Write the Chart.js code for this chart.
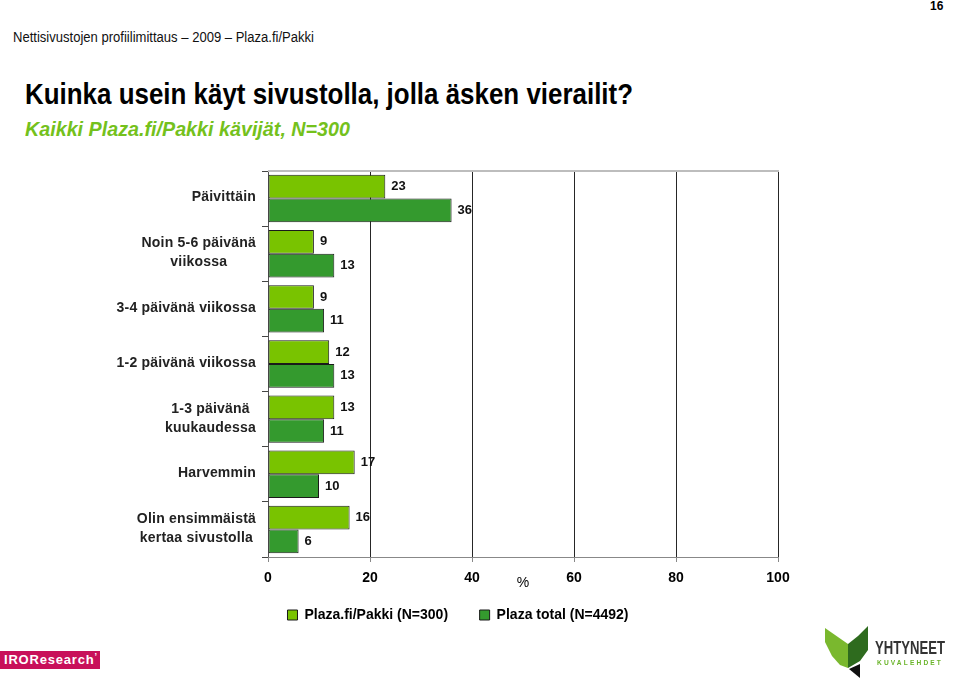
<!DOCTYPE html>
<html><head><meta charset="utf-8">
<script src="https://cdn.jsdelivr.net/npm/chart.js@4/dist/chart.umd.min.js"></script>
<style>
body{margin:0;width:960px;height:684px;position:relative;background:#fff;overflow:hidden;font-family:"Liberation Sans",Arial,sans-serif;}
.abs{position:absolute;white-space:nowrap;line-height:1;transform-origin:0 0;}
#pg{left:930px;top:0px;font-size:12px;font-weight:bold;}
#hdr{left:13px;top:30px;font-size:14px;color:#111;}
#title{left:25px;top:80px;font-size:29px;font-weight:bold;color:#000;}
#sub{left:25px;top:118px;font-size:21px;font-weight:bold;font-style:italic;color:#74C11C;}
#cv{position:absolute;left:0;top:150px;}
#iro{left:0;top:651px;width:100px;height:18px;background:#C8105A;color:#fff;font-weight:bold;font-size:13px;letter-spacing:0.8px;line-height:18px;padding-left:4px;box-sizing:border-box;}
#yk1{left:875px;top:638px;font-weight:bold;font-size:19px;color:#333;}
#yk2{left:877px;top:659px;font-size:8px;font-weight:bold;letter-spacing:2.6px;color:#6AB42A;}
</style></head>
<body>
<div id="pg" class="abs">16</div>
<div id="hdr" class="abs" data-w="301">Nettisivustojen profiilimittaus – 2009 – Plaza.fi/Pakki</div>
<div id="title" class="abs" data-w="608">Kuinka usein käyt sivustolla, jolla äsken vierailit?</div>
<div id="sub" class="abs" data-w="325">Kaikki Plaza.fi/Pakki kävijät, N=300</div>
<canvas id="cv" width="916" height="482"></canvas>
<div id="iro" class="abs">IROResearch<span style="font-size:9px;vertical-align:top;line-height:10px">&#8217;</span></div>
<svg class="abs" style="left:820px;top:620px" width="60" height="62" viewBox="0 0 60 62">
<polygon points="5,8 28,24 28,48 20,45 12,36 5,22" fill="#7AB82E"/>
<polygon points="28,24 38,16 48,6 48,30 40,41 28,48" fill="#2E6B1E"/>
<polygon points="29,49 40,44 40,58" fill="#111"/>
</svg>
<div id="yk1" class="abs" data-w="70">YHTYNEET</div>
<div id="yk2" class="abs" data-w="66">KUVALEHDET</div>
<script>
const categories = [
  "Päivittäin",
  ["Noin 5-6 päivänä", "viikossa"],
  "3-4 päivänä viikossa",
  "1-2 päivänä viikossa",
  ["1-3 päivänä", "kuukaudessa"],
  "Harvemmin",
  ["Olin ensimmäistä", "kertaa sivustolla"]
];
const pakkiValues = [23, 9, 9, 12, 13, 17, 16];
const totalValues = [36, 13, 11, 13, 11, 10, 6];
const seriesNames = ["Plaza.fi/Pakki (N=300)", "Plaza total (N=4492)"];
const xTicks = [0, 20, 40, 60, 80, 100];

document.querySelectorAll('[data-w]').forEach(el => {
  const w = el.getBoundingClientRect().width;
  const t = parseFloat(el.dataset.w);
  if (w > 0) el.style.transform = 'scaleX(' + (t / w) + ')';
});

const FONT = '"Liberation Sans", Arial, sans-serif';

const valueLabels = {
  id: 'valueLabels',
  afterDatasetsDraw(chart) {
    const ctx = chart.ctx;
    ctx.save();
    ctx.font = 'bold 13px ' + FONT;
    ctx.fillStyle = '#111';
    ctx.textBaseline = 'middle';
    ctx.textAlign = 'left';
    chart.data.datasets.forEach((ds, di) => {
      chart.getDatasetMeta(di).data.forEach((bar, i) => {
        ctx.fillText(String(ds.data[i]), bar.x + 6, bar.y);
      });
    });
    ctx.restore();
  }
};

const catLabels = {
  id: 'catLabels',
  afterDraw(chart) {
    const s = chart.scales.y;
    const ctx = chart.ctx;
    ctx.save();
    ctx.font = 'bold 14px ' + FONT;
    try { ctx.letterSpacing = '0.2px'; } catch (e) {}
    ctx.fillStyle = '#222';
    ctx.textAlign = 'center';
    ctx.textBaseline = 'middle';
    const lh = 19;
    categories.forEach((lab, i) => {
      const lines = Array.isArray(lab) ? lab : [lab];
      const w = Math.max(...lines.map(l => ctx.measureText(l).width));
      const cx = s.right - 12 - w / 2;
      const yc = s.getPixelForValue(i) - 1;
      lines.forEach((l, k) => ctx.fillText(l, cx, yc + (k - (lines.length - 1) / 2) * lh));
    });
    ctx.restore();
  }
};

const topFrame = {
  id: 'topFrame',
  afterDraw(chart) {
    const { ctx, chartArea: a } = chart;
    ctx.save();
    ctx.strokeStyle = '#bdbdbd';
    ctx.lineWidth = 2;
    ctx.beginPath();
    ctx.moveTo(a.left, a.top);
    ctx.lineTo(a.right + 1, a.top);
    ctx.stroke();
    ctx.restore();
  }
};

new Chart(document.getElementById('cv'), {
  type: 'bar',
  data: {
    labels: categories,
    datasets: [
      { label: seriesNames[0], data: pakkiValues, backgroundColor: '#79C300', borderColor: '#1a1a1a', borderWidth: 1, borderSkipped: false },
      { label: seriesNames[1], data: totalValues, backgroundColor: '#349A2E', borderColor: '#1a1a1a', borderWidth: 1, borderSkipped: false }
    ]
  },
  options: {
    indexAxis: 'y',
    responsive: false,
    animation: false,
    devicePixelRatio: 1,
    layout: { padding: { top: 21, left: 0, right: 0, bottom: 0 } },
    datasets: { bar: { categoryPercentage: 0.86, barPercentage: 1 } },
    scales: {
      y: {
        type: 'category',
        position: 'left',
        offset: true,
        afterFit(s) { s.width = 268; },
        ticks: { display: false },
        grid: { drawOnChartArea: false, drawTicks: true, tickLength: 6, tickColor: '#444', offset: true },
        border: { display: true, color: '#555', width: 1 }
      },
      y2: {
        type: 'linear',
        position: 'right',
        display: true,
        afterFit(s) { s.width = 138; },
        ticks: { display: false },
        grid: { display: false },
        border: { display: false }
      },
      x: {
        type: 'linear',
        position: 'bottom',
        min: 0,
        max: 100,
        afterBuildTicks(s) { s.ticks = xTicks.map(v => ({ value: v })); },
        afterFit(s) { s.height = 35; },
        ticks: { font: { family: FONT, size: 14, weight: 'bold' }, color: '#000', padding: 8 },
        grid: {
          color: c => (c.tick && c.tick.value === 0) ? 'rgba(0,0,0,0)' : '#262626',
          tickColor: '#888',
          tickLength: 5,
          lineWidth: 1
        },
        border: { display: true, color: '#888', width: 1 },
        title: { display: true, text: '%', font: { family: FONT, size: 14 }, color: '#000', padding: { top: 0, bottom: 0 } }
      }
    },
    plugins: {
      legend: {
        position: 'bottom',
        labels: {
          boxWidth: 10, boxHeight: 10, padding: 16,
          font: { family: FONT, size: 14, weight: 'bold' }, color: '#000',
          generateLabels(chart) {
            const items = Chart.defaults.plugins.legend.labels.generateLabels(chart);
            items.forEach((it, i) => { if (i === 0) it.text = it.text + '    '; });
            return items;
          }
        }
      },
      tooltip: { enabled: false }
    }
  },
  plugins: [valueLabels, catLabels, topFrame]
});
</script>
</body></html>
